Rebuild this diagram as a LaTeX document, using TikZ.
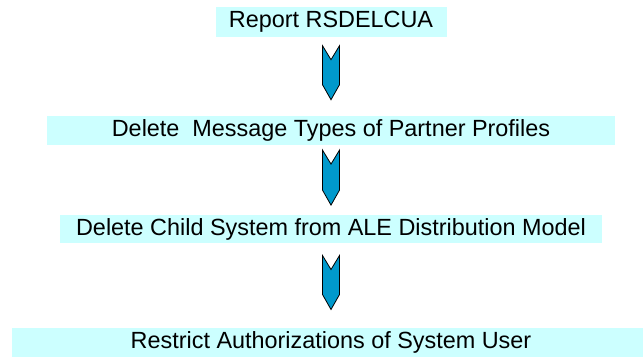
\documentclass[tikz,border=0pt]{standalone}
\usepackage{fontspec}
\setmainfont{Liberation Sans}
\usetikzlibrary{positioning}

\definecolor{boxcyan}{HTML}{CCFFFF}
\definecolor{arrowblue}{HTML}{0099CC}

\tikzset{
  stepbox/.style={fill=boxcyan, inner sep=0pt, minimum height=29bp,
    font=\fontsize{23.4bp}{28bp}\selectfont},
  chevron/.style={draw=black, fill=arrowblue, line width=0.8bp, line join=miter,
    to path={([xshift=-8.5bp]\tikztostart) -- ([yshift=-14bp]\tikztostart)
      -- ([xshift=8.5bp]\tikztostart) -- ([xshift=8.5bp,yshift=15bp]\tikztotarget)
      -- (\tikztotarget) -- ([xshift=-8.5bp,yshift=15bp]\tikztotarget) -- cycle}}
}

\begin{document}
\begin{tikzpicture}[x=1bp, y=1bp]
    \clip (0,0) rectangle (643,356);

    % Steps
    \node[stepbox, minimum width=231bp] (report) at (331,334) {Report RSDELCUA};
    \node[stepbox, minimum width=568bp, below=79bp of report] (msgtypes) {Delete\ \ Message Types of Partner Profiles};
    \node[stepbox, minimum width=542bp, minimum height=28bp, below=70bp of msgtypes] (childsys) {Delete Child System from ALE Distribution Model};
    \node[stepbox, minimum width=638bp, minimum height=30bp, below=84bp of childsys] (authuser) {Restrict Authorizations of System User};

    % Ends of the block arrows
    \coordinate[below=9bp of report] (r1);
    \coordinate[above=16bp of msgtypes] (m1);
    \coordinate[below=5bp of msgtypes] (m2);
    \coordinate[above=10bp of childsys] (c1);
    \coordinate[below=12bp of childsys] (c2);
    \coordinate[above=18bp of authuser] (a1);

    % Block arrows
    \draw[chevron] (r1) to (m1);
    \draw[chevron] (m2) to (c1);
    \draw[chevron] (c2) to (a1);
\end{tikzpicture}
\end{document}
